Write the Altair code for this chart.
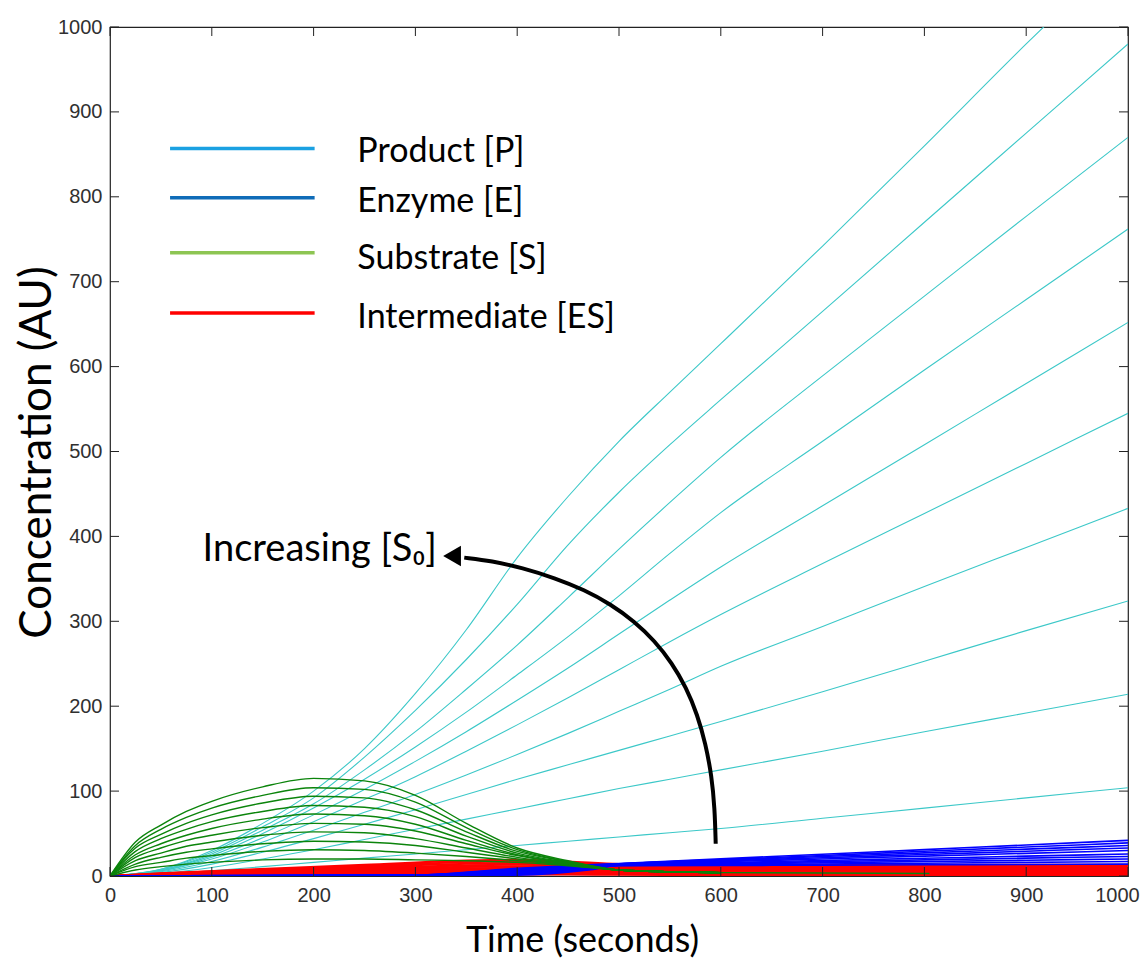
import altair as alt
import pandas as pd

W, H = 1018, 849

# ---------------- data ----------------
T_P = [0, 50, 100, 150, 200, 250, 300, 350, 400, 450, 500, 550, 600, 700, 800, 900, 1000]
P1 = [0, 2, 6, 11, 16, 21, 26, 31, 36, 41, 46, 51, 56, 68, 80, 92, 104]
P2 = [0, 3, 10, 20, 31, 43, 55, 67, 79, 91, 103, 114, 125, 147, 170, 192, 214]
P3 = [0, 4, 14, 28, 44, 61, 78, 96, 114, 131, 148, 165, 182, 217, 253, 289, 324]
P4 = [0, 5, 17, 34, 54, 75, 96, 119, 143, 168, 194, 220, 247, 294, 341, 387, 433]
P5 = [0, 6, 20, 40, 64, 90, 117, 147, 178, 210, 243, 276, 308, 368, 427, 486, 545]
P6 = [0, 6, 22, 45, 72, 102, 135, 170, 207, 245, 285, 325, 364, 436, 508, 580, 652]
P7 = [0, 7, 24, 50, 80, 114, 152, 193, 237, 282, 330, 380, 428, 512, 596, 679, 762]
P8 = [0, 7, 26, 54, 85, 125, 170, 220, 272, 328, 385, 440, 493, 589, 683, 777, 870]
P9 = [0, 8, 28, 58, 92, 140, 195, 255, 320, 390, 452, 508, 561, 665, 770, 875, 980]
P10 = [0, 8, 30, 62, 100, 150, 215, 290, 375, 447, 512, 570, 627, 742, 860, 980, 1095]
PRODUCT = [P1, P2, P3, P4, P5, P6, P7, P8, P9, P10]

T_S = [0, 25, 50, 75, 100, 150, 200, 250, 300, 350, 400, 450, 500, 550, 600]
S1 = [0, 7, 11, 14, 16, 19, 20, 20, 19, 18, 16, 12, 7, 5, 4]
S2 = [0, 11, 16, 21, 24, 29, 31, 30, 27, 23, 18, 13, 7, 5, 4]
S3 = [0, 14, 22, 28, 32, 38, 41, 40, 36, 28, 20, 13, 7, 5, 4]
S4 = [0, 18, 27, 35, 40, 48, 52, 51, 44, 33, 22, 14, 7, 5, 4]
S5 = [0, 22, 33, 42, 48, 57, 62, 61, 53, 38, 24, 15, 7, 5, 4]
S6 = [0, 25, 38, 48, 56, 67, 73, 71, 61, 42, 25, 15, 7, 5, 4]
S7 = [0, 29, 44, 55, 64, 76, 83, 81, 70, 47, 27, 16, 7, 5, 4]
S8 = [0, 33, 49, 62, 72, 86, 94, 92, 78, 52, 29, 17, 7, 5, 4]
S9 = [0, 36, 55, 69, 80, 95, 104, 102, 87, 57, 31, 17, 7, 5, 4]
S10 = [0, 40, 60, 76, 88, 105, 115, 112, 95, 62, 33, 18, 7, 5, 4]
SUBSTRATE = [S1, S2, S3, S4, S5, S6, S7, S8, S9, S10]
S_TAIL_T = [600, 700, 805]
S_TAIL_V = [4, 3.5, 3]

T_ES = [0, 50, 125, 250, 350, 400, 450, 500, 600, 800, 1000]
ES1 = [0, 0.3, 0.7, 1.3, 1.8, 2.0, 1.8, 1.5, 1.3, 1.3, 1.3]
ES2 = [0, 0.6, 1.4, 2.6, 3.6, 3.9, 3.5, 2.9, 2.6, 2.6, 2.6]
ES3 = [0, 0.9, 2.1, 3.9, 5.4, 5.8, 5.2, 4.3, 3.9, 3.9, 3.9]
ES4 = [0, 1.2, 2.8, 5.2, 7.2, 7.7, 6.9, 5.7, 5.2, 5.2, 5.2]
ES5 = [0, 1.5, 3.5, 6.5, 9.0, 9.6, 8.6, 7.1, 6.5, 6.5, 6.5]
ES6 = [0, 1.8, 4.2, 7.8, 10.8, 11.4, 10.3, 8.4, 7.8, 7.8, 7.8]
ES7 = [0, 2.1, 4.9, 9.1, 12.6, 13.3, 12.0, 9.8, 9.1, 9.1, 9.1]
ES8 = [0, 2.4, 5.6, 10.4, 14.4, 15.2, 13.6, 11.2, 10.4, 10.4, 10.4]
ES9 = [0, 2.7, 6.3, 11.7, 16.2, 17.1, 15.3, 12.6, 11.7, 11.7, 11.7]
ES10 = [0, 3, 7, 13, 18, 19, 17, 14, 13, 13, 13]
INTERMEDIATE = [ES1, ES2, ES3, ES4, ES5, ES6, ES7, ES8, ES9, ES10]

T_E = [0, 300, 400, 470, 500, 600, 700, 800, 900, 1000]
E1 = [0, 0.3, 1.0, 7.0, 12.0, 12.4, 12.8, 13.2, 13.6, 14]
E2 = [0, 0.4, 1.9, 7.7, 12.3, 13.2, 14.2, 15.1, 16.1, 17]
E3 = [0, 0.5, 2.8, 8.4, 12.6, 14.1, 15.6, 17.0, 18.5, 20]
E4 = [0, 0.6, 3.7, 9.1, 12.9, 14.9, 16.9, 19.0, 21.0, 23]
E5 = [0, 0.7, 4.6, 9.8, 13.2, 15.8, 18.3, 20.9, 23.4, 26]
E6 = [0, 0.8, 5.5, 10.5, 13.5, 16.8, 20.1, 23.4, 26.7, 30]
E7 = [0, 0.9, 6.4, 11.2, 13.8, 17.6, 21.5, 25.3, 29.2, 33]
E8 = [0, 1.0, 7.3, 11.9, 14.1, 18.5, 22.9, 27.2, 31.6, 36]
E9 = [0, 1.1, 8.2, 12.6, 14.4, 19.3, 24.2, 29.2, 34.1, 39]
E10 = [0, 1.2, 9.1, 13.3, 14.7, 20.2, 25.6, 31.1, 36.5, 42]
ENZYME = [E1, E2, E3, E4, E5, E6, E7, E8, E9, E10]

ARROW_T = [595, 594, 591, 585, 577, 566, 552, 535, 515, 492, 466, 437, 405, 375, 348]
ARROW_V = [38, 80, 118, 156, 190, 222, 251, 277, 300, 320, 337, 351, 363, 371, 375]
ARROW_TIP = (336, 377)

TICKS = [0, 100, 200, 300, 400, 500, 600, 700, 800, 900, 1000]

LEG_LABELS = ["Product [P]", "Enzyme [E]", "Substrate [S]", "Intermediate [ES]"]
LEG_COLORS = ["#1ba1e2", "#0f6cb8", "#8dc553", "#ff0000"]
LEG_LINE_Y = [857, 799, 734, 663]
LEG_TEXT_Y = [853, 794, 727, 657]
LEG_X0, LEG_X1, LEG_TX = 59, 201, 243

ANN_TEXT = "Increasing [S\u2080]"
ANN_T, ANN_V = 321, 384

# ---------------- frames ----------------
def long_frame(tgrid, series, prefix):
    rows = []
    for i, vals in enumerate(series):
        for t, v in zip(tgrid, vals):
            rows.append({"t": t, "v": v, "c": f"{prefix}{i}"})
    return pd.DataFrame(rows)

df_p = long_frame(T_P, PRODUCT, "P")
df_s = long_frame(T_S, SUBSTRATE, "S")
df_s_tail = pd.DataFrame({"t": S_TAIL_T, "v": S_TAIL_V, "c": "tail"})
df_es = long_frame(T_ES, INTERMEDIATE, "ES")
df_e = long_frame(T_E, ENZYME, "E")
df_arrow = pd.DataFrame({"t": ARROW_T, "v": ARROW_V, "i": list(range(len(ARROW_T)))})
df_tip = pd.DataFrame({"t": [ARROW_TIP[0]], "v": [ARROW_TIP[1]]})
df_ann = pd.DataFrame({"t": [ANN_T], "v": [ANN_V], "s": [ANN_TEXT]})
df_tx = pd.DataFrame({"t": TICKS})
df_ty = pd.DataFrame({"v": TICKS})
df_leg_line = pd.DataFrame({"t": [LEG_X0] * 4, "t2": [LEG_X1] * 4, "v": LEG_LINE_Y, "color": LEG_COLORS})
df_leg_text = pd.DataFrame({"t": [LEG_TX] * 4, "v": LEG_TEXT_Y, "label": LEG_LABELS})

xs = alt.Scale(domain=[0, 1000], nice=False, zero=False)
ys = alt.Scale(domain=[0, 1000], nice=False, zero=False)

x_axis = alt.Axis(values=TICKS, format="d", title="Time (seconds)", titleX=472, titleY=64,
                  titleBaseline="middle", titleFontSize=36, labelPadding=9, labelFlush=False,
                  labelOffset={"expr": "datum.value >= 1000 ? -11 : 0"},
                  ticks=False, domain=False, grid=False)
y_axis = alt.Axis(values=TICKS, format="d", title="Concentration (AU)", titleX=-73, titleY=425,
                  titleBaseline="middle", titleAlign="center", titleFontSize=44, labelPadding=8,
                  labelFlush=False, ticks=False, domain=False, grid=False)

X = alt.X("t:Q", scale=xs, axis=x_axis)
Y = alt.Y("v:Q", scale=ys, axis=y_axis)

product = alt.Chart(df_p).mark_line(color="#3cc8c8", strokeWidth=1.1, interpolate="monotone", clip=True).encode(
    x=X, y=Y, detail="c:N")
inter = alt.Chart(df_es).mark_line(color="#ff0000", strokeWidth=2.2, interpolate="monotone", clip=True).encode(
    x=X, y=Y, detail="c:N")
enzyme = alt.Chart(df_e).mark_line(color="#0000ff", strokeWidth=1.6, interpolate="monotone", clip=True).encode(
    x=X, y=Y, detail="c:N")
substrate = alt.Chart(df_s).mark_line(color="#0b840b", strokeWidth=1.4, interpolate="monotone", clip=True).encode(
    x=X, y=Y, detail="c:N")
sub_tail = alt.Chart(df_s_tail).mark_line(color="#0b840b", strokeWidth=1.4, clip=True).encode(x=X, y=Y)

arrow = alt.Chart(df_arrow).mark_line(color="black", strokeWidth=4, interpolate="basis").encode(
    x=X, y=Y, order="i:Q")
tip = alt.Chart(df_tip).mark_point(shape="triangle-left", filled=True, size=420, color="black", opacity=1).encode(
    x=X, y=Y)
ann = alt.Chart(df_ann).mark_text(font="Lato", fontSize=38, align="right", baseline="middle", color="black").encode(
    x=X, y=Y, text="s:N")

leg_lines = alt.Chart(df_leg_line).mark_rule(strokeWidth=3.5).encode(
    x=X, x2="t2:Q", y=Y, color=alt.Color("color:N", scale=None))
leg_text = alt.Chart(df_leg_text).mark_text(font="Lato", fontSize=34, align="left", baseline="middle", color="black").encode(
    x=X, y=Y, text="label:N")

TL = 9
tick_col = "#222222"
t_left = alt.Chart(df_ty).mark_rule(color=tick_col).encode(y=Y, x=alt.value(0), x2=alt.value(TL))
t_right = alt.Chart(df_ty).mark_rule(color=tick_col).encode(y=Y, x=alt.value(W - TL), x2=alt.value(W))
t_bottom = alt.Chart(df_tx).mark_rule(color=tick_col).encode(x=X, y=alt.value(H - TL), y2=alt.value(H))
t_top = alt.Chart(df_tx).mark_rule(color=tick_col).encode(x=X, y=alt.value(0), y2=alt.value(TL))

chart = alt.layer(
    product, inter, enzyme, substrate, sub_tail, arrow, tip, ann, leg_lines, leg_text,
    t_left, t_right, t_bottom, t_top,
).properties(
    width=W, height=H,
    autosize=alt.AutoSizeParams(type="none"),
    padding={"left": 102, "top": 19, "right": 12, "bottom": 83},
    background="white",
).configure_view(
    stroke="#222222", strokeWidth=1.2,
).configure_axis(
    labelFont="Liberation Sans", labelFontSize=20, labelColor="#303030",
    titleFont="Lato", titleFontWeight="normal", titleColor="black",
)

chart.save("out.html", embed_options={"renderer": "svg", "actions": False})
